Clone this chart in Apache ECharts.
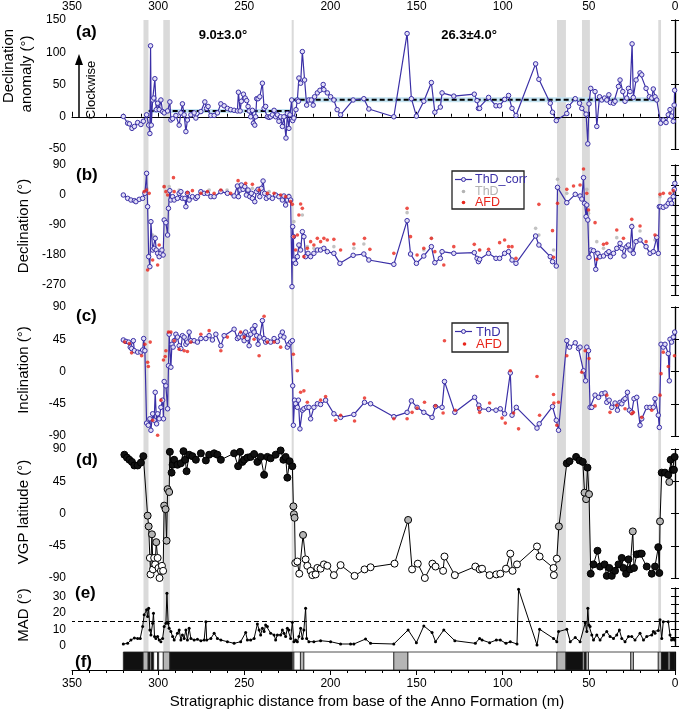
<!DOCTYPE html>
<html><head><meta charset="utf-8">
<script src="https://cdn.jsdelivr.net/npm/echarts@6/dist/echarts.min.js"></script>
<style>html,body{margin:0;padding:0;background:#fff}#c{width:685px;height:711px}</style>
</head><body><div id="c"></div>
<script>
// ---------- DATA (stratigraphic distance m, value) ----------
const xTickLabels = [0, 50, 100, 150, 200, 250, 300, 350];
const transitionBands = [[308.5, 305.6], [297.0, 293.2], [222.5, 221.3], [68.5, 63.3], [54.0, 49.4], [9.7, 8.1]];
// [from, to, mean, sd]
const meanAnomaly = [[305.5, 222.5, 9.0, 3.0], [222.5, 10.5, 26.3, 4.0]];
const meanLabels = ['9.0±3.0°', '26.3±4.0°'];

const anomaly = [[320.2,0.5],[317.7,-10],[316.7,-11],[315.2,-18],[313.8,-15],[311.9,-9],[310.0,-12],[308.6,-7],[306.7,3],[305.5,-13],[304.8,-26],[304.4,110],[304.0,-13],[303.2,26],[302.5,29],[301.9,59],[301.1,11],[300.3,21],[299.4,11],[298.4,26],[297.4,8],[296.5,6],[294.5,9],[293.2,23],[292.6,-5],[291.6,-3],[289.7,2],[287.8,-13],[286.8,6],[285.9,20],[284.9,3],[283.9,-23],[283.0,-5],[281.0,3],[279.1,6],[278.1,-2],[275.2,8],[272.9,23],[271.9,13],[271.0,16],[269.4,2],[267.5,2],[265.6,6],[263.6,20],[261.7,17],[259.8,13],[257.9,11],[255.9,10],[254.0,9],[253.4,38],[252.4,9],[251.7,24],[250.5,35],[249.5,29],[248.6,25],[247.8,16],[247.2,9],[246.3,0],[245.3,10],[244.7,-10],[243.9,-13],[243.4,0],[242.8,28],[242.0,28],[241.0,31],[239.5,52],[238.5,13],[237.6,16],[236.6,0],[235.6,-1],[234.7,0],[233.7,3],[232.7,10],[231.8,0],[230.8,3],[229.9,-7],[228.9,0],[227.9,-15],[227.0,0],[225.8,-33],[225.0,5],[224.1,-18],[223.5,3],[222.5,26],[221.9,-6],[221.2,-2],[220.0,11],[219.2,26],[218.6,24],[218.3,60],[217.3,52],[216.3,101],[215.0,57],[213.8,18],[212.5,26],[211.1,26],[210.0,18],[209.2,31],[207.6,37],[206.1,41],[204.2,50],[203.8,42],[201.8,37],[199.9,31],[198.0,26],[196.1,11],[194.1,3],[186.8,26],[180.6,28],[177.7,12],[163.2,0],[155.5,129],[153.0,28],[150.1,1],[145.8,24],[141.4,53],[139.4,7],[136.2,15],[135.2,37],[128.4,32],[116.5,35],[114.9,25],[114.1,13],[113.4,13],[108.2,30],[103.9,17],[101.8,17],[98.9,27],[96.6,33],[94.6,13],[92.3,2],[80.9,82],[79.0,58],[72.4,21],[71.1,7],[68.9,-6],[62.8,5],[61.8,16],[57.9,28],[55.4,21],[54.1,13],[51.6,4],[50.6,-42],[49.9,20],[48.9,44],[46.4,39],[45.4,-15],[43.8,31],[42.5,26],[40.9,29],[39.6,26],[38.4,34],[37.5,22],[35.7,21],[34.8,24],[32.8,47],[31.9,57],[30.3,39],[29.0,24],[28.0,29],[27.0,44],[26.1,39],[24.9,113],[24.2,30],[22.6,57],[20.3,68],[19.3,65],[16.8,44],[14.9,31],[13.5,29],[12.6,43],[11.6,31],[10.6,26],[8.3,-10],[6.8,-5],[5.2,-9],[3.9,3],[2.9,11],[2.0,1],[1.0,-7],[0.5,18],[0.2,41]];

const decThDcorr = [[320.2,0],[317.7,-10],[315.8,-15],[313.8,-17],[312.9,-20],[311.0,-13],[309.0,-10],[307.7,5],[306.7,65],[306.1,-35],[305.5,-185],[304.8,-215],[304.2,-80],[303.2,-165],[302.3,-160],[301.7,-130],[301.1,-165],[300.3,-175],[299.4,-185],[298.4,-175],[297.8,-165],[297.1,-180],[296.5,-75],[295.5,-83],[294.5,-120],[294.0,-40],[293.2,13],[292.6,-15],[291.6,-5],[290.7,-15],[288.8,-10],[287.8,5],[286.8,10],[285.9,-10],[284.5,-10],[283.9,-35],[283.0,5],[282.0,-15],[280.1,-5],[278.1,-10],[277.2,-5],[275.2,10],[273.3,5],[271.4,5],[269.4,-5],[267.5,-5],[263.6,10],[259.8,5],[255.9,-3],[254.0,27],[253.4,-5],[252.4,15],[251.7,30],[250.7,17],[249.7,25],[248.8,0],[247.8,15],[246.8,-5],[245.9,5],[245.3,-10],[243.9,-20],[243.0,10],[242.0,17],[241.0,-5],[240.1,20],[239.1,42],[238.2,5],[237.2,-10],[235.6,-5],[233.7,-10],[231.8,0],[229.9,-5],[227.9,-15],[227.0,-3],[226.0,-30],[225.0,-15],[224.1,-5],[223.1,-15],[222.3,-275],[221.9,-95],[221.5,-125],[221.2,-195],[220.2,-205],[219.2,-185],[218.3,-150],[217.3,-165],[216.3,-110],[215.4,-125],[214.4,-185],[213.0,-175],[211.5,-185],[209.6,-175],[207.6,-165],[205.7,-165],[203.8,-160],[201.8,-170],[198.0,-175],[194.5,-205],[186.8,-181],[180.6,-177],[177.7,-195],[163.2,-208],[155.5,-77],[153.5,-177],[150.1,-205],[145.8,-183],[141.4,-155],[139.4,-203],[136.2,-190],[135.2,-170],[128.4,-175],[116.5,-173],[114.9,-190],[114.1,-200],[113.4,-193],[108.2,-175],[103.9,-190],[101.8,-190],[98.9,-175],[96.6,-170],[94.6,-195],[92.3,-205],[80.9,-123],[79.0,-150],[72.4,-185],[71.1,-200],[68.9,-213],[68.2,23],[62.8,-23],[57.9,2],[55.1,-3],[54.1,-12],[53.1,52],[52.5,-25],[51.6,-65],[51.2,-30],[50.6,-75],[49.9,-187],[48.7,-165],[47.3,-167],[46.0,-223],[44.8,-175],[43.5,-185],[41.5,-183],[39.6,-175],[38.4,-170],[37.5,-185],[35.7,-175],[33.8,-160],[31.9,-145],[30.9,-160],[29.6,-183],[28.0,-155],[27.0,-150],[26.1,-165],[25.1,-95],[24.2,-175],[22.6,-140],[20.3,-135],[16.8,-155],[14.5,-175],[12.6,-170],[10.6,-127],[9.7,-175],[9.1,-35],[8.3,-35],[6.8,-37],[5.2,-33],[3.9,-25],[2.9,-15],[2.0,-25],[1.0,-5],[0.4,17],[0.1,35]];

const decThD = [[306.7,20],[305.2,-185],[303.2,-120],[301.7,-125],[296.5,25],[293.6,25],[287.8,15],[270.4,15],[260.0,15],[245.3,20],[235.6,10],[224.1,0],[221.2,-80],[216.3,-60],[213.4,-155],[209.6,-160],[198.0,-155],[186.4,-160],[180.6,-147],[155.5,-53],[145.8,-165],[141.4,-130],[113.4,-165],[80.9,-100],[79.0,-120],[70.5,-165],[68.2,47],[62.8,5],[51.2,17],[50.2,-55],[45.4,-140],[41.5,-160],[33.8,-128],[24.9,-90],[20.3,-108],[11.6,-135],[8.7,-5],[1.0,5]];

const decAFD = [[308.1,10],[306.7,15],[305.2,5],[306.1,-225],[303.2,-195],[300.3,-210],[299.4,-150],[296.5,25],[295.5,10],[291.1,52],[294.5,0],[290.7,10],[283.0,7],[280.1,13],[275.2,5],[271.4,10],[267.5,5],[263.6,15],[257.9,5],[253.6,43],[249.2,35],[245.3,32],[241.4,15],[236.6,5],[232.7,5],[228.9,0],[226.0,-5],[223.1,-20],[222.1,-28],[221.2,-125],[220.2,-165],[219.2,-120],[218.3,-60],[217.3,-27],[216.3,-40],[215.4,-185],[213.4,-160],[211.5,-140],[209.6,-150],[207.6,-130],[205.7,-140],[203.8,-130],[201.8,-135],[198.0,-133],[194.1,-165],[186.4,-147],[180.2,-130],[177.1,-163],[163.2,-175],[155.5,-40],[153.5,-125],[149.7,-180],[145.8,-160],[141.4,-130],[139.4,-170],[134.2,-210],[128.4,-155],[116.5,-148],[113.4,-165],[108.2,-163],[101.8,-143],[98.9,-135],[96.6,-155],[94.6,-155],[92.3,-190],[79.0,-28],[71.1,-107],[70.5,-187],[68.2,-25],[62.8,17],[58.9,27],[55.1,30],[53.1,78],[51.2,5],[50.2,-45],[46.4,-83],[45.4,-193],[41.5,-148],[39.6,-145],[33.8,-105],[29.9,-130],[25.1,-73],[20.3,-93],[16.8,-140],[11.6,-120],[8.7,2],[6.8,5],[2.9,5],[1.0,13]];

const incThD = [[320.2,44],[318.7,42],[317.1,41],[316.2,34],[315.4,32],[314.4,43],[313.8,29],[311.9,27],[310.0,27],[309.0,30],[308.4,46],[307.7,29],[306.7,-72],[305.7,-75],[304.8,-66],[304.2,-82],[303.2,-59],[302.3,-68],[301.7,-29],[300.9,-73],[300.3,-59],[299.4,-66],[298.4,-50],[297.4,-40],[296.9,-66],[296.5,-14],[295.5,-20],[294.5,-52],[294.0,8],[293.6,52],[292.6,6],[292.0,38],[291.3,34],[290.7,43],[289.7,52],[288.8,48],[287.8,36],[286.8,32],[285.9,50],[284.9,48],[283.9,38],[283.0,41],[282.0,55],[281.0,43],[279.1,43],[277.2,41],[275.2,46],[272.3,46],[270.4,50],[268.5,44],[266.5,52],[263.6,36],[261.7,50],[255.9,59],[254.0,46],[253.0,48],[252.1,52],[251.1,48],[250.1,43],[249.2,55],[248.2,46],[247.2,36],[246.3,52],[245.3,59],[244.3,55],[243.8,64],[242.8,50],[242.0,38],[241.0,48],[239.5,71],[238.5,46],[237.6,41],[236.6,43],[234.7,41],[232.7,46],[230.8,42],[228.9,50],[227.9,55],[227.0,48],[225.0,34],[224.1,38],[223.1,41],[222.1,43],[221.9,-20],[221.5,-75],[220.8,-40],[220.2,-45],[219.2,-50],[218.6,-40],[217.7,-80],[216.3,-54],[215.4,-52],[213.8,-50],[212.5,-50],[211.5,-66],[209.6,-50],[207.6,-45],[205.7,-46],[202.8,-40],[198.0,-59],[194.1,-64],[186.4,-60],[180.2,-43],[176.7,-45],[163.2,-63],[155.5,-57],[153.0,-41],[149.7,-50],[145.8,-57],[141.0,-64],[139.0,-49],[135.2,-50],[133.8,-14],[127.8,-57],[116.3,-36],[113.9,-47],[113.4,-52],[108.2,-53],[103.9,-54],[101.4,-52],[98.9,-59],[95.6,-2],[94.6,-61],[92.1,-50],[80.1,-79],[78.8,-73],[71.1,-49],[68.9,-68],[67.6,-82],[62.8,43],[61.2,34],[57.9,40],[56.0,32],[55.1,34],[53.1,1],[51.9,-13],[51.2,34],[50.2,29],[49.3,-50],[48.3,-50],[46.4,-33],[44.4,-36],[42.5,-31],[40.6,-30],[39.6,-43],[38.2,-40],[36.7,-50],[34.8,-44],[33.4,-54],[31.9,-43],[30.9,-45],[29.9,-40],[29.0,-38],[27.6,-29],[26.5,-54],[25.1,-57],[23.8,-38],[22.2,-36],[20.3,-75],[19.3,-66],[16.4,-50],[14.5,-50],[12.6,-50],[11.6,-38],[9.7,-61],[9.1,-78],[8.1,38],[6.8,34],[5.8,38],[3.9,25],[3.3,-13],[2.9,45],[2.0,41],[1.0,48],[0.2,55]];

const incAFD = [[319.4,41],[316.7,39],[315.4,26],[309.6,22],[307.7,38],[306.1,13],[305.7,7],[304.6,41],[303.2,-68],[300.3,-89],[298.4,-40],[296.9,16],[295.9,21],[295.5,29],[294.0,55],[292.6,55],[290.7,43],[287.8,31],[284.9,29],[283.0,28],[281.0,41],[275.2,52],[270.4,57],[263.6,29],[259.8,48],[252.1,55],[250.1,48],[244.3,45],[241.4,22],[238.5,77],[236.6,41],[232.7,41],[228.9,34],[221.5,24],[219.2,1],[217.3,-29],[215.4,-27],[213.4,-43],[205.7,-40],[202.8,-35],[197.0,-68],[194.1,-61],[186.0,-69],[180.2,-37],[163.2,-66],[155.5,-66],[152.6,-57],[149.7,-51],[145.4,-43],[139.0,-48],[134.6,-58],[133.8,43],[127.5,-54],[113.9,-51],[113.4,-57],[107.6,-44],[100.4,-65],[98.5,-72],[95.6,1],[93.7,-58],[90.8,-80],[80.1,-7],[78.6,-61],[70.5,-32],[70.3,-44],[68.6,-75],[67.6,-43],[62.8,22],[54.1,-1],[52.1,29],[49.9,18],[46.4,-48],[39.6,-33],[37.7,-57],[33.8,-47],[29.0,-52],[25.1,-59],[24.2,-57],[19.3,-64],[13.5,-54],[8.7,-33],[8.1,-3],[6.8,27],[3.9,7],[0.3,22]];

// [distance, VGP latitude, class: N = normal (black), T = transitional (grey), R = reversed (white)]
const vgp = [[319.6,82,'N'],[318.1,78,'N'],[316.7,75,'N'],[315.2,72,'N'],[313.8,67,'N'],[311.9,67,'N'],[310.0,71,'N'],[308.6,80,'N'],[306.1,-3,'T'],[305.5,-18,'T'],[304.8,-62,'R'],[304.4,-85,'R'],[303.6,-29,'T'],[303.0,-78,'R'],[302.3,-62,'R'],[301.7,-71,'R'],[301.1,-40,'T'],[300.3,-62,'R'],[299.8,-76,'R'],[299.2,-90,'R'],[298.4,-80,'R'],[297.8,-73,'R'],[297.1,-80,'R'],[296.5,11,'T'],[295.7,6,'T'],[295.1,-38,'T'],[294.5,34,'T'],[293.6,30,'T'],[293.2,86,'N'],[292.2,57,'N'],[291.6,68,'N'],[290.7,75,'N'],[288.8,68,'N'],[286.8,70,'N'],[285.3,87,'N'],[284.3,75,'N'],[283.5,59,'N'],[282.0,82,'N'],[280.1,80,'N'],[278.1,75,'N'],[275.2,84,'N'],[272.3,74,'N'],[270.4,82,'N'],[267.5,84,'N'],[265.6,82,'N'],[263.6,75,'N'],[255.9,84,'N'],[253.6,66,'N'],[252.4,86,'N'],[251.1,72,'N'],[250.1,75,'N'],[248.2,78,'N'],[246.3,79,'N'],[244.3,83,'N'],[242.4,72,'N'],[240.5,79,'N'],[238.5,54,'N'],[236.6,79,'N'],[234.7,77,'N'],[231.8,82,'N'],[228.9,88,'N'],[227.3,75,'N'],[226.0,79,'N'],[225.0,50,'N'],[223.7,73,'N'],[222.1,66,'N'],[221.5,10,'T'],[221.2,-1,'T'],[220.8,-6,'T'],[220.4,-69,'R'],[219.2,-67,'R'],[218.1,-84,'R'],[215.9,-30,'T'],[214.4,-64,'R'],[213.4,-73,'R'],[211.5,-80,'R'],[210.5,-86,'R'],[208.6,-85,'R'],[207.6,-76,'R'],[205.7,-77,'R'],[203.8,-71,'R'],[201.8,-73,'R'],[198.0,-86,'R'],[194.1,-72,'R'],[186.0,-87,'R'],[180.2,-78,'R'],[176.7,-75,'R'],[162.8,-70,'R'],[154.9,-9,'T'],[152.6,-78,'R'],[149.3,-70,'R'],[145.2,-90,'R'],[140.8,-70,'R'],[139.0,-74,'R'],[134.6,-80,'R'],[133.8,-60,'R'],[127.8,-86,'R'],[115.9,-74,'R'],[113.4,-78,'R'],[112.0,-77,'R'],[107.6,-86,'R'],[103.7,-85,'R'],[101.4,-84,'R'],[98.1,-77,'R'],[95.6,-56,'R'],[94.3,-80,'R'],[91.7,-71,'R'],[80.1,-46,'R'],[78.6,-60,'R'],[70.5,-76,'R'],[70.3,-86,'R'],[68.6,-63,'R'],[67.4,-18,'T'],[62.8,70,'N'],[61.2,73,'N'],[57.4,79,'N'],[55.4,74,'N'],[53.5,72,'N'],[52.5,29,'T'],[51.6,20,'T'],[50.8,64,'N'],[49.9,27,'T'],[48.9,-84,'N'],[47.3,-71,'N'],[45.0,-52,'N'],[43.5,-74,'N'],[40.9,-71,'N'],[39.6,-87,'N'],[38.1,-76,'N'],[36.7,-87,'N'],[34.8,-80,'N'],[32.8,-71,'N'],[30.9,-62,'N'],[29.9,-76,'N'],[28.4,-84,'N'],[27.0,-64,'N'],[26.1,-78,'N'],[24.5,-25,'T'],[23.8,-76,'N'],[22.2,-57,'N'],[20.3,-56,'N'],[19.3,-56,'N'],[16.4,-74,'N'],[13.5,-84,'N'],[11.6,-74,'N'],[9.7,-47,'N'],[9.1,-83,'N'],[8.7,-11,'T'],[7.7,57,'N'],[5.8,57,'N'],[3.9,54,'N'],[3.3,44,'T'],[2.5,75,'N'],[1.4,61,'N'],[0.6,61,'N'],[0.2,79,'N']];

const mad = [[320.2,1.2],[317.7,1.6],[315.8,3.6],[313.8,4.8],[311.9,4.6],[310.4,4.6],[309.0,11.7],[308.1,18.8],[306.7,21.8],[306.1,17.8],[305.5,22.8],[304.8,9.7],[304.2,6.7],[303.2,13.7],[302.7,19.8],[302.1,5.7],[301.3,4.6],[300.3,5.7],[299.4,3.6],[298.4,2.6],[297.4,4.6],[296.5,11.7],[295.5,13.7],[294.9,31.9],[294.2,13.7],[293.6,10.7],[292.6,8.7],[291.6,5.7],[290.7,3.6],[288.8,7.7],[287.8,9.7],[286.8,3.6],[285.9,6.7],[284.9,4.6],[283.9,9.7],[283.0,3.6],[282.0,10.7],[281.0,4.6],[279.1,3.6],[277.2,4.0],[275.2,3.2],[273.3,3.6],[272.3,14.7],[271.8,3.6],[269.4,4.6],[267.5,7.7],[265.6,4.6],[263.6,3.6],[259.8,2.6],[255.9,1.6],[252.1,2.6],[249.2,8.1],[248.2,3.6],[246.3,3.6],[244.3,4.6],[242.4,13.3],[241.4,9.7],[240.5,6.7],[239.5,10.7],[238.5,8.7],[237.6,12.7],[236.6,11.7],[234.7,7.7],[232.7,6.7],[231.8,3.6],[230.8,6.7],[228.9,6.7],[227.9,9.7],[227.0,7.7],[226.0,5.7],[225.0,10.7],[224.1,9.7],[223.1,4.6],[222.1,14.3],[221.2,2.6],[220.2,3.6],[219.2,2.6],[218.3,5.7],[217.3,10.7],[216.3,4.6],[215.4,9.7],[214.4,22.8],[213.8,4.6],[212.5,2.6],[209.6,2.6],[205.7,3.2],[199.9,2.6],[194.1,1.2],[188.3,1.2],[186.4,1.2],[179.6,4.2],[176.7,1.6],[163.2,1.2],[154.9,9.7],[150.1,2.0],[145.8,12.1],[141.0,8.1],[139.0,2.6],[134.2,9.7],[127.8,3.2],[115.9,1.6],[113.4,4.6],[112.0,3.6],[107.6,2.0],[103.7,3.6],[101.4,3.6],[98.1,1.6],[95.6,2.6],[91.7,1.2],[90.8,34.3],[80.1,0.6],[78.6,10.1],[70.5,4.6],[68.6,2.6],[67.6,8.7],[62.8,10.1],[60.8,2.6],[57.9,5.1],[55.1,2.6],[52.1,14.1],[51.2,8.7],[50.6,22.8],[50.0,12.7],[49.3,11.7],[48.3,6.7],[47.3,3.6],[45.4,6.7],[43.5,3.6],[41.5,6.7],[39.6,8.7],[37.7,5.7],[35.7,4.6],[33.8,6.7],[32.3,9.7],[30.9,4.6],[29.0,2.6],[27.0,5.7],[25.1,5.7],[23.2,3.6],[20.3,7.7],[18.3,3.6],[16.4,5.7],[13.5,6.7],[12.6,8.7],[11.6,7.7],[9.7,9.3],[8.7,15.8],[7.7,4.6],[6.8,14.7],[3.9,14.7],[2.9,6.7],[2.0,3.6],[1.0,4.6],[0.2,3.6]];
const madThreshold = 15;

// polarity column [from, to, class]
const polarity = [[320.2,308.7,'N'],[308.7,305.8,'T'],[305.8,304.7,'N'],[304.7,303.8,'T'],[303.8,302.6,'N'],[302.6,300.3,'R'],[300.3,299.7,'N'],[299.7,297.0,'R'],[297.0,293.2,'T'],[293.2,222.1,'N'],[222.1,221.2,'T'],[221.2,217.4,'R'],[217.4,215.4,'T'],[215.4,163.2,'R'],[163.2,155.0,'T'],[155.0,68.5,'R'],[68.5,63.3,'T'],[63.3,53.5,'N'],[53.5,52.5,'T'],[52.5,51.6,'N'],[51.6,50.2,'T'],[50.2,25.7,'R'],[25.7,24.1,'T'],[24.1,9.7,'R'],[9.7,7.8,'T'],[7.8,3.9,'N'],[3.9,2.9,'R'],[2.9,0.0,'N']];

// ---------- STYLE ----------
const FONT = '"Liberation Sans", Arial, Helvetica, sans-serif';
const BLUE = '#3a2fa6', RED = '#e8261c', GREY = '#b3b3b3';
const fillOf = {N: '#111111', T: '#b5b5b5', R: '#ffffff'};

const L = 72, R = 10;
const panels = [
  {top: 20, h: 129, min: -50, max: 150, interval: 50, fmt: null},
  {top: 165, h: 130, min: -300, max: 90, interval: 30, fmt: v => (v % 90 === 0 ? String(v) : '')},
  {top: 307, h: 129, min: -90, max: 90, interval: 45, fmt: null},
  {top: 449, h: 129, min: -90, max: 90, interval: 45, fmt: null},
  {top: 588, h: 58, min: 0, max: 35, interval: 5, fmt: v => (v % 10 === 0 ? String(v) : '')},
  {top: 652, h: 18, min: 0, max: 1, interval: 1, fmt: null},
  {top: 20, h: 632, min: 0, max: 1, interval: 1, fmt: null} // background bands
];

const axisLine = {show: true, lineStyle: {color: '#000', width: 1.2}};
const grid = panels.map(p => ({left: L, right: R, top: p.top, height: p.h}));
const xAxis = panels.map((p, i) => ({
  gridIndex: i, type: 'value', min: 0, max: 350, interval: 50, inverse: true,
  show: i === 0 || i === 5, position: i === 0 ? 'top' : 'bottom',
  axisLine: axisLine,
  axisTick: {show: true, length: 5, lineStyle: {color: '#000', width: 1}},
  minorTick: {show: true, splitNumber: 5, length: 3, lineStyle: {color: '#000', width: 1}},
  axisLabel: {color: '#000', fontSize: 12, fontFamily: FONT, margin: i === 0 ? 7 : 8},
  splitLine: {show: false}, minorSplitLine: {show: false}
}));
const yAxis = [];
panels.forEach((p, i) => {
  const isBar = i >= 5;
  yAxis.push({
    gridIndex: i, type: 'value', min: p.min, max: p.max, interval: p.interval, position: 'left',
    show: i !== 6,
    axisLine: axisLine,
    axisTick: {show: !isBar, length: 4, lineStyle: {color: '#000', width: 1}},
    axisLabel: {show: !isBar, color: '#000', fontSize: 12, fontFamily: FONT, margin: 6, formatter: p.fmt || undefined},
    splitLine: {show: false}
  });
});
panels.forEach((p, i) => {
  if (i >= 5) return;
  yAxis.push({
    gridIndex: i, type: 'value', min: p.min, max: p.max, interval: p.interval, position: 'right',
    axisLine: axisLine,
    axisTick: {show: true, length: 4, lineStyle: {color: '#000', width: 1}},
    axisLabel: {show: false}, splitLine: {show: false}
  });
});

const rectItem = (api, x0, x1, y0, y1, style) => {
  const a = api.coord([x0, y0]), b = api.coord([x1, y1]);
  return {type: 'rect', shape: {x: Math.min(a[0], b[0]), y: Math.min(a[1], b[1]), width: Math.abs(b[0] - a[0]), height: Math.abs(b[1] - a[1])}, style: style};
};

const series = [];
// transition bands (background)
series.push({
  type: 'custom', xAxisIndex: 6, yAxisIndex: 6, z: 0, silent: true,
  data: transitionBands, encode: {x: [0, 1]},
  renderItem: (params, api) => rectItem(api, api.value(0), api.value(1), 0, 1, {fill: '#dadada'})
});
// (a) mean band and dashed mean line
series.push({
  type: 'custom', xAxisIndex: 0, yAxisIndex: 0, z: 1, silent: true,
  data: meanAnomaly, encode: {x: [0, 1], y: 2},
  renderItem: (params, api) => rectItem(api, api.value(0), api.value(1), api.value(2) - api.value(3), api.value(2) + api.value(3), {fill: '#c2e2f0'})
});
meanAnomaly.forEach(m => {
  series.push({
    type: 'line', xAxisIndex: 0, yAxisIndex: 0, z: 2, symbol: 'none', silent: true,
    data: [[m[0], m[2]], [m[1], m[2]]],
    lineStyle: {color: '#000', width: 2, type: [5, 3]}
  });
});
const blueLine = (name, data, xi, yi) => ({
  name: name, type: 'line', xAxisIndex: xi, yAxisIndex: yi, data: data, z: 3,
  symbol: 'circle', symbolSize: 4.5, showSymbol: true,
  lineStyle: {color: BLUE, width: 1.2},
  itemStyle: {color: '#e2dff6', borderColor: BLUE, borderWidth: 1}
});
const dots = (name, data, xi, yi, color, z) => ({
  name: name, type: 'scatter', xAxisIndex: xi, yAxisIndex: yi, data: data, z: z,
  symbol: 'circle', symbolSize: 3.6, itemStyle: {color: color}
});
series.push(blueLine('anomaly', anomaly, 0, 0));
// (b)
series.push(dots('ThD', decThD, 1, 1, GREY, 2));
series.push(blueLine('ThD_corr', decThDcorr, 1, 1));
series.push(dots('AFD', decAFD, 1, 1, RED, 4));
// (c)
series.push(blueLine('ThD inc', incThD, 2, 2));
series.push(dots('AFD inc', incAFD, 2, 2, RED, 4));
// (d)
series.push({
  type: 'line', xAxisIndex: 3, yAxisIndex: 3, z: 3,
  data: vgp.map(r => ({value: [r[0], r[1]], itemStyle: {color: fillOf[r[2]], borderColor: '#000', borderWidth: 1}})),
  symbol: 'circle', symbolSize: 7, showSymbol: true,
  lineStyle: {color: '#000', width: 1}
});
// (e)
series.push({
  type: 'line', xAxisIndex: 4, yAxisIndex: 4, z: 3, data: mad,
  symbol: 'circle', symbolSize: 3, showSymbol: true,
  lineStyle: {color: '#000', width: 1}, itemStyle: {color: '#000'},
  markLine: {silent: true, symbol: 'none', label: {show: false},
    lineStyle: {color: '#000', width: 1, type: [5, 3]}, data: [{yAxis: madThreshold}]}
});
// (f)
series.push({
  type: 'custom', xAxisIndex: 5, yAxisIndex: 5, z: 3, silent: true,
  data: polarity.map(p => [p[0], p[1], p[2]]), encode: {x: [0, 1]},
  renderItem: (params, api) => {
    const p = polarity[params.dataIndex];
    return rectItem(api, p[0], p[1], 0, 1, {fill: fillOf[p[2]], stroke: '#222', lineWidth: 0.8});
  }
});

// ---------- TEXT / ANNOTATIONS ----------
const txt = (x, y, text, opt) => Object.assign({
  type: 'text', x: x, y: y, z: 100,
  style: Object.assign({text: text, font: '15px ' + FONT, fill: '#000', align: 'center', verticalAlign: 'middle'}, opt && opt.style)
}, opt && opt.el);
const vtxt = (x, y, text, size) => txt(x, y, text, {el: {rotation: Math.PI / 2}, style: {font: (size || 15) + 'px ' + FONT}});
const graphic = [
  txt(76, 32, '(a)', {style: {font: 'bold 17px ' + FONT, align: 'left'}}),
  txt(76, 175, '(b)', {style: {font: 'bold 17px ' + FONT, align: 'left'}}),
  txt(76, 316, '(c)', {style: {font: 'bold 17px ' + FONT, align: 'left'}}),
  txt(76, 460, '(d)', {style: {font: 'bold 17px ' + FONT, align: 'left'}}),
  txt(75, 593, '(e)', {style: {font: 'bold 17px ' + FONT, align: 'left'}}),
  txt(75, 662, '(f)', {style: {font: 'bold 17px ' + FONT, align: 'left'}}),
  vtxt(9, 66, 'Declination'),
  vtxt(27, 74, 'anomaly (°)'),
  vtxt(24, 226, 'Declination (°)'),
  vtxt(24, 370, 'Inclination (°)'),
  vtxt(24, 512, 'VGP latitude (°)'),
  vtxt(24, 615, 'MAD (°)'),
  vtxt(91, 90, 'Clockwise', 13),
  {type: 'line', z: 100, shape: {x1: 79, y1: 117, x2: 79, y2: 62}, style: {stroke: '#000', lineWidth: 1.5}},
  {type: 'polygon', z: 100, shape: {points: [[79, 54], [75, 65], [83, 65]]}, style: {fill: '#000'}},
  txt(223, 35, meanLabels[0], {style: {font: 'bold 13px ' + FONT}}),
  txt(469, 35, meanLabels[1], {style: {font: 'bold 13px ' + FONT}}),
  txt(367, 702, 'Stratigraphic distance from base of the Anno Formation (m)', {style: {font: '15px ' + FONT}}),
  // legend (b)
  {type: 'rect', z: 100, shape: {x: 452, y: 171, width: 72, height: 38}, style: {fill: '#fff', stroke: '#222', lineWidth: 1.3}},
  {type: 'line', z: 101, shape: {x1: 455, y1: 179.5, x2: 472, y2: 179.5}, style: {stroke: BLUE, lineWidth: 1.2}},
  {type: 'circle', z: 102, shape: {cx: 463.5, cy: 179.5, r: 2}, style: {fill: '#e2dff6', stroke: BLUE, lineWidth: 1}},
  txt(475, 180, 'ThD_corr', {style: {font: '12.5px ' + FONT, fill: BLUE, align: 'left'}}),
  {type: 'circle', z: 102, shape: {cx: 463.5, cy: 191.5, r: 1.8}, style: {fill: GREY}},
  txt(475, 192, 'ThD', {style: {font: '12.5px ' + FONT, fill: GREY, align: 'left'}}),
  {type: 'circle', z: 102, shape: {cx: 463.5, cy: 202.5, r: 1.8}, style: {fill: RED}},
  txt(475, 203, 'AFD', {style: {font: '12.5px ' + FONT, fill: RED, align: 'left'}}),
  // legend (c)
  {type: 'rect', z: 100, shape: {x: 452, y: 323, width: 56, height: 29}, style: {fill: '#fff', stroke: '#222', lineWidth: 1.3}},
  {type: 'line', z: 101, shape: {x1: 455, y1: 331.5, x2: 472, y2: 331.5}, style: {stroke: BLUE, lineWidth: 1.2}},
  {type: 'circle', z: 102, shape: {cx: 463.5, cy: 331.5, r: 2}, style: {fill: '#e2dff6', stroke: BLUE, lineWidth: 1}},
  txt(476, 332, 'ThD', {style: {font: '13px ' + FONT, fill: BLUE, align: 'left'}}),
  {type: 'circle', z: 102, shape: {cx: 464.5, cy: 344, r: 1.8}, style: {fill: RED}},
  txt(476, 344.5, 'AFD', {style: {font: '13px ' + FONT, fill: RED, align: 'left'}})
];

const chart = echarts.init(document.getElementById('c'), null, {renderer: 'canvas'});
chart.setOption({
  animation: false, backgroundColor: '#fff',
  textStyle: {fontFamily: FONT},
  grid: grid, xAxis: xAxis, yAxis: yAxis, series: series, graphic: graphic
});
</script></body></html>
